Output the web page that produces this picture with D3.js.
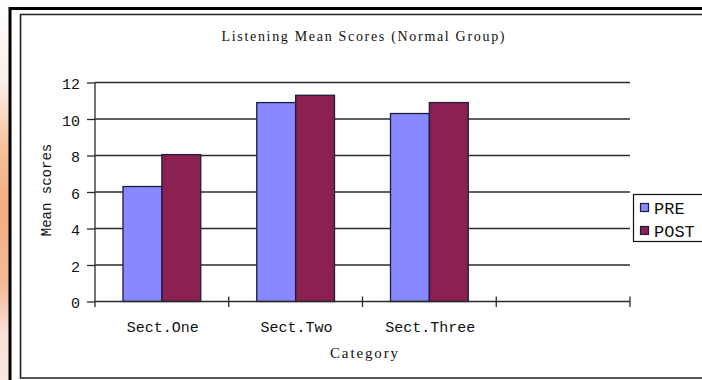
<!DOCTYPE html>
<html>
<head>
<meta charset="utf-8">
<script src="https://cdn.jsdelivr.net/npm/d3@7"></script>
<style>
  html, body { margin: 0; padding: 0; background: #fff; }
  svg { display: block; }
</style>
</head>
<body>
<svg id="chart" width="702" height="380"></svg>
<script>
// ---- data ----
const categories = ["Sect.One", "Sect.Two", "Sect.Three", ""];
const seriesNames = ["PRE", "POST"];
const preValues = [6.3, 10.9, 10.3, null];
const postValues = [8.05, 11.3, 10.9, null];
const yTicks = [0, 2, 4, 6, 8, 10, 12];
const titleText = "Listening Mean Scores (Normal Group)";
const yTitle = "Mean scores";
const xTitle = "Category";

const colors = { PRE: "#8888ff", POST: "#8a2150" };

const svg = d3.select("#chart");

// left slide background strip
const defs = svg.append("defs");
const grad = defs.append("linearGradient").attr("id", "bgstrip")
  .attr("x1", 0).attr("y1", 0).attr("x2", 0).attr("y2", 1);
[[0, "#ffffff"], [0.22, "#fbeee8"], [0.38, "#f6c49c"], [0.55, "#f2ad80"],
 [0.75, "#f4bb98"], [0.88, "#f8e2d8"], [1, "#f9e7e0"]].forEach(([o, c]) =>
  grad.append("stop").attr("offset", o).attr("stop-color", c));
svg.append("rect").attr("x", 0).attr("y", 0).attr("width", 9).attr("height", 380)
  .attr("fill", "url(#bgstrip)");

// outer thick frame (open on the right)
svg.append("path")
  .attr("d", "M702,8.5 H10 V380")
  .attr("fill", "none").attr("stroke", "#000").attr("stroke-width", 3);
// inner thin frame
svg.append("path")
  .attr("d", "M702,14.5 H20.5 V378 H702")
  .attr("fill", "none").attr("stroke", "#222").attr("stroke-width", 1.6);

// ---- scales ----
const y = d3.scaleLinear().domain([0, 12]).range([301.5, 82.5]);
const x = d3.scaleBand().domain(categories).range([95, 630]).paddingInner(0).paddingOuter(0);
const x1 = d3.scaleBand().domain(seriesNames).range([0, x.bandwidth()])
  .paddingInner(0).paddingOuter(0.72);

// gridlines
svg.append("g").selectAll("line")
  .data(yTicks.filter(t => t !== 0))
  .join("line")
  .attr("x1", 95).attr("x2", 630)
  .attr("y1", d => y(d)).attr("y2", d => y(d))
  .attr("stroke", "#2a2a2a").attr("stroke-width", 1.3);

// y axis
const yAxis = svg.append("g").attr("transform", "translate(95,0)")
  .call(d3.axisLeft(y).tickValues(yTicks).tickSize(8).tickPadding(7).tickFormat(d3.format("d")));
yAxis.select(".domain").remove();
yAxis.selectAll(".tick line").attr("stroke", "#2a2a2a").attr("stroke-width", 1.3);
yAxis.selectAll(".tick text")
  .attr("font-family", "'Liberation Mono', monospace")
  .attr("font-size", 15).attr("fill", "#111").attr("dy", "0.42em");
svg.append("line").attr("x1", 95).attr("x2", 95)
  .attr("y1", y(12)).attr("y2", y(0) + 5.5)
  .attr("stroke", "#2a2a2a").attr("stroke-width", 1.3);

// bars
const data = categories.map((c, i) => ({ cat: c, PRE: preValues[i], POST: postValues[i] }));
const groups = svg.append("g").selectAll("g")
  .data(data.filter(d => d.PRE !== null))
  .join("g")
  .attr("transform", d => `translate(${x(d.cat)},0)`);
groups.selectAll("rect")
  .data(d => seriesNames.map(s => ({ s, v: d[s] })))
  .join("rect")
  .attr("x", d => x1(d.s))
  .attr("width", x1.bandwidth())
  .attr("y", d => y(d.v))
  .attr("height", d => y(0) - y(d.v))
  .attr("fill", d => colors[d.s])
  .attr("stroke", "#1c1c3c").attr("stroke-width", 1.3);

// x axis line + crossing ticks
svg.append("line").attr("x1", 95).attr("x2", 630)
  .attr("y1", y(0)).attr("y2", y(0))
  .attr("stroke", "#2a2a2a").attr("stroke-width", 1.3);
const boundaries = categories.map(c => x(c)).concat([x.range()[1]]);
svg.append("g").selectAll("line")
  .data(boundaries.slice(1))
  .join("line")
  .attr("x1", d => d).attr("x2", d => d)
  .attr("y1", y(0) - 5).attr("y2", y(0) + 5.5)
  .attr("stroke", "#2a2a2a").attr("stroke-width", 1.3);

// category labels
svg.append("g").selectAll("text")
  .data(categories.filter(c => c !== ""))
  .join("text")
  .attr("x", d => x(d) + x.bandwidth() / 2 + 1)
  .attr("y", 332)
  .attr("text-anchor", "middle")
  .attr("font-family", "'Liberation Mono', monospace")
  .attr("font-size", 15).attr("fill", "#111")
  .text(d => d);

// title
svg.append("text")
  .attr("x", 221.5).attr("y", 41)
  .attr("font-family", "'Liberation Serif', serif")
  .attr("font-size", 14).attr("fill", "#111")
  .attr("textLength", 283).attr("lengthAdjust", "spacing")
  .text(titleText);

// axis titles
svg.append("text")
  .attr("transform", "translate(51,190) rotate(-90)")
  .attr("text-anchor", "middle")
  .attr("font-family", "'Liberation Mono', monospace")
  .attr("font-size", 14).attr("fill", "#111")
  .text(yTitle);

svg.append("text")
  .attr("x", 330).attr("y", 358)
  .attr("font-family", "'Liberation Serif', serif")
  .attr("font-size", 15).attr("fill", "#111")
  .attr("textLength", 68).attr("lengthAdjust", "spacing")
  .text(xTitle);

// legend
const legend = svg.append("g");
legend.append("rect").attr("x", 633.5).attr("y", 194.5).attr("width", 80).attr("height", 47)
  .attr("fill", "#fff").attr("stroke", "#111").attr("stroke-width", 1.2);
const li = legend.selectAll("g.item").data(seriesNames).join("g")
  .attr("class", "item")
  .attr("transform", (d, i) => `translate(0,${i * 23})`);
li.append("rect").attr("x", 640.5).attr("y", 203.5).attr("width", 8).attr("height", 8)
  .attr("fill", d => colors[d]).attr("stroke", "#1c1c3c").attr("stroke-width", 1.2);
li.append("text").attr("x", 654).attr("y", 214)
  .attr("font-family", "'Liberation Mono', monospace")
  .attr("font-size", 17).attr("fill", "#111")
  .text(d => d);
</script>
</body>
</html>
